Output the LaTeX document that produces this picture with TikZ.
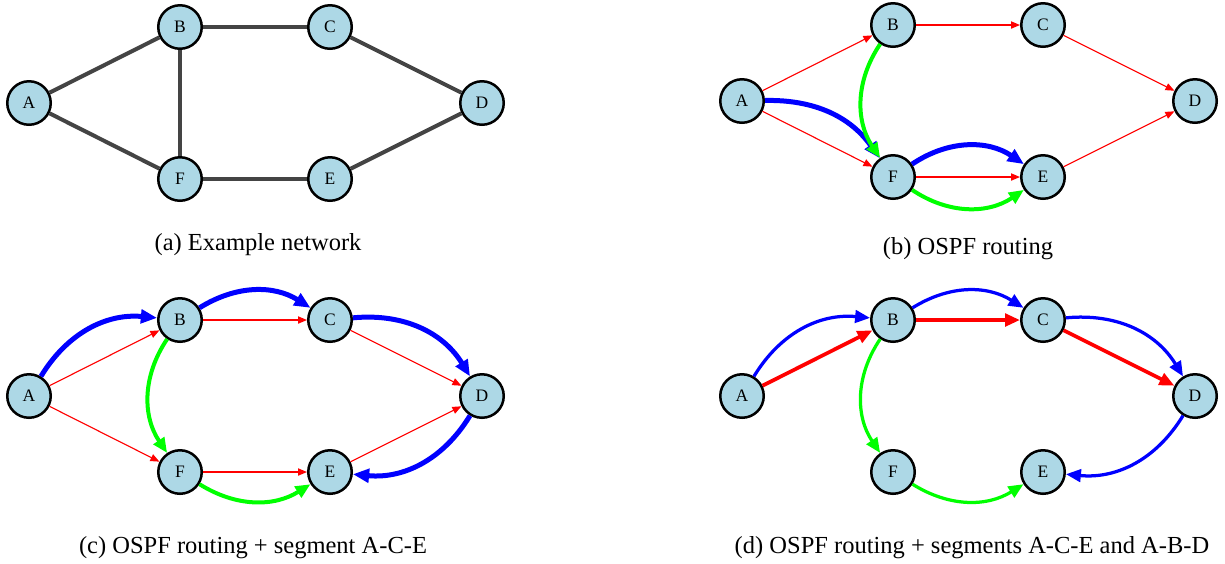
\documentclass[tikz,border=0pt]{standalone}
\usepackage{fontspec}
\setmainfont{Liberation Serif}
\usetikzlibrary{arrows.meta}
\definecolor{nodeblue}{RGB}{173,216,230}
\definecolor{edgegray}{RGB}{68,68,68}
\definecolor{pblue}{RGB}{0,0,255}
\definecolor{pgreen}{RGB}{0,255,0}
\definecolor{pred}{RGB}{255,0,0}
\newcommand{\netnodes}[3]{%
  \begin{scope}[shift={(#2,#3)}]
    \node[nd] (#1A) at (0,0) {A};
    \node[nd] (#1B) at (151,-76) {B};
    \node[nd] (#1C) at (301,-76) {C};
    \node[nd] (#1D) at (453,0) {D};
    \node[nd] (#1F) at (151,76) {F};
    \node[nd] (#1E) at (301,76) {E};
  \end{scope}}
\begin{document}
\begin{tikzpicture}[x=0.4pt,y=-0.4pt,
  nd/.style={circle,draw=black,line width=1pt,fill=nodeblue,minimum size=17.4pt,inner sep=0pt,font=\fontsize{7}{8}\selectfont},
  link/.style={draw=edgegray,line width=1.6pt},
  thinred/.style={draw=pred,line width=0.45pt,-{Triangle[length=3.6pt,width=2.9pt]}},
  thickred/.style={draw=pred,line width=1.5pt,-{Triangle[length=6pt,width=5pt]}},
  bluepath/.style={draw=pblue,line width=2pt,-{Triangle[length=6.5pt,width=5.4pt]}},
  greenpath/.style={draw=pgreen,line width=1.6pt,-{Triangle[length=6pt,width=5pt]}},
  bluethin/.style={draw=pblue,line width=1.3pt,-{Triangle[length=6pt,width=5pt]}},
  greenthin/.style={draw=pgreen,line width=1.3pt,-{Triangle[length=6pt,width=5pt]}},
  captext/.style={font=\fontsize{9.8}{12}\selectfont,inner sep=0pt}
]
\useasboundingbox (0,0) rectangle (1225,563);

% ---------- (a) ----------
\netnodes{a}{29}{103}
\draw[link] (aA) -- (aB);
\draw[link] (aA) -- (aF);
\draw[link] (aB) -- (aC);
\draw[link] (aB) -- (aF);
\draw[link] (aC) -- (aD);
\draw[link] (aF) -- (aE);
\draw[link] (aE) -- (aD);
\node[captext] (capa) at (258,245) {(a) Example network};

% ---------- (b) ----------
\netnodes{b}{742}{101}
\draw[thinred] (bA) -- (bB);
\draw[thinred] (bA) -- (bF);
\draw[thinred] (bB) -- (bC);
\draw[thinred] (bC) -- (bD);
\draw[thinred] (bF) -- (bE);
\draw[thinred] (bE) -- (bD);
\draw[bluepath] (bA) to[bend left=28] (bF);
\draw[bluepath] (bF) to[bend left=34] (bE);
\draw[greenpath] (bB) to[bend right=34] (bF);
\draw[greenpath] (bF) to[bend right=34] (bE);
\node[captext] (capb) at (968,249) {(b) OSPF routing};

% ---------- (c) ----------
\netnodes{c}{29}{396}
\draw[thinred] (cA) -- (cB);
\draw[thinred] (cA) -- (cF);
\draw[thinred] (cB) -- (cC);
\draw[thinred] (cC) -- (cD);
\draw[thinred] (cF) -- (cE);
\draw[thinred] (cE) -- (cD);
\draw[bluepath] (cA) to[bend left=32] (cB);
\draw[bluepath] (cB) to[bend left=32] (cC);
\draw[bluepath] (cC) to[bend left=32] (cD);
\draw[bluepath] (cD) to[bend left=32] (cE);
\draw[greenpath] (cB) to[bend right=34] (cF);
\draw[greenpath] (cF) to[bend right=32] (cE);
\node[captext] (capc) at (253,548) {(c) OSPF routing + segment A-C-E};

% ---------- (d) ----------
\netnodes{d}{742}{396}
\draw[thickred] (dA) -- (dB);
\draw[thickred] (dB) -- (dC);
\draw[thickred] (dC) -- (dD);
\draw[bluethin] (dA) to[bend left=32] (dB);
\draw[bluethin] (dB) to[bend left=32] (dC);
\draw[bluethin] (dC) to[bend left=32] (dD);
\draw[bluethin] (dD) to[bend left=32] (dE);
\draw[greenthin] (dB) to[bend right=34] (dF);
\draw[greenthin] (dF) to[bend right=32] (dE);
\node[captext] (capd) at (972,548) {(d) OSPF routing + segments A-C-E and A-B-D};
\end{tikzpicture}
\end{document}
